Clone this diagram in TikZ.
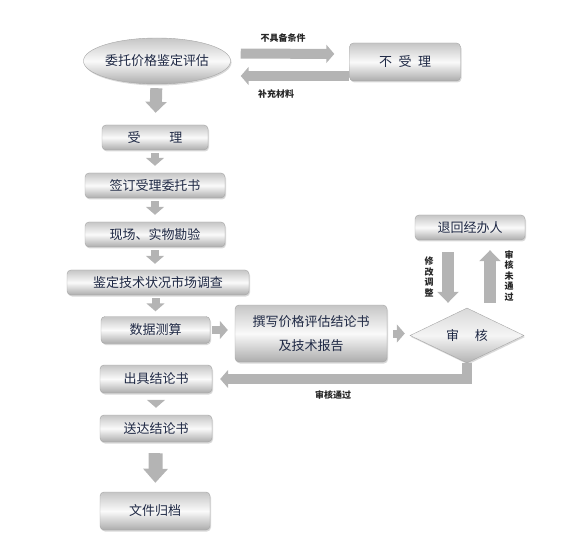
\documentclass[tikz,border=0pt]{standalone}
\usepackage{fontspec}
\setmainfont{Noto Sans CJK SC}
\usepackage{tikz}
\usetikzlibrary{positioning}
\usetikzlibrary{shapes.geometric}
\usetikzlibrary{arrows.meta}
\usetikzlibrary{shadows}
\definecolor{inkblue}{RGB}{30,40,68}
\definecolor{arrowgray}{RGB}{180,180,180}

\begin{document}
\begin{tikzpicture}[x=1pt, y=-1pt,
    box/.style={rectangle, rounded corners=4pt, draw=gray!70, top color=gray!45, bottom color=gray!65, middle color=gray!4,
        drop shadow={opacity=0.3, shadow xshift=1pt, shadow yshift=-1.5pt},
        text=inkblue, font=\fontsize{13}{24}\selectfont, inner sep=0pt, align=center},
    oval/.style={box, ellipse, rounded corners=0pt},
    check/.style={box, diamond, rounded corners=0pt, top color=gray!30, bottom color=gray!60, middle color=gray!8},
    note/.style={font=\bfseries\fontsize{9}{10.5}\selectfont, text=black!85, align=center},
    flow/.style={draw=arrowgray, line width=8pt, -{Triangle[width=18pt, length=8pt]}},
    bigflow/.style={draw=arrowgray, line width=12pt, -{Triangle[width=21pt, length=11pt]}}]
    \useasboundingbox (0,0) rectangle (571,559);

    % Top row
    \node[oval, minimum width=141pt, minimum height=46pt] (entrust) at (157,61) {委托价格鉴定评估};
    \node[box, minimum width=111pt, minimum height=38pt] (reject) at (405,62) {不\hspace{0.5em}受\hspace{0.5em}理};

    % Main column
    \node[box, minimum width=106pt, minimum height=25pt] (accept) at (155,137.5) {受\hspace{2.2em}理};
    \node[box, minimum width=140pt, minimum height=25pt] (sign) at (155,185.5) {签订受理委托书};
    \node[box, minimum width=140pt, minimum height=25pt] (survey) at (155,234.5) {现场、实物勘验};
    \node[box, minimum width=182pt, minimum height=25pt] (market) at (158,282.5) {鉴定技术状况市场调查};
    \node[box, minimum width=109pt, minimum height=27pt] (calc) at (155.5,330) {数据测算};
    \node[box, minimum width=112pt, minimum height=28pt] (issue) at (156,379) {出具结论书};
    \node[box, minimum width=112pt, minimum height=27pt] (deliver) at (156,428.5) {送达结论书};
    \node[box, minimum width=110pt, minimum height=38pt] (archive) at (155,511) {文件归档};

    % Report and review
    \node[box, minimum width=152pt, minimum height=57pt] (write) at (311,333.5) {撰写价格评估结论书\\及技术报告};
    \node[check, minimum width=114pt, minimum height=55pt] (review) at (467,335.5) {审\hspace{1.2em}核};
    \node[box, minimum width=110pt, minimum height=25pt] (back) at (470,227.5) {退回经办人};

    % Connections
    \draw[flow, line width=10pt, shorten <=10pt, shorten >=15pt] ([yshift=7.5pt]entrust.east) -- ([yshift=8pt]reject.west);
    \draw[flow, line width=10pt, shorten <=0pt, shorten >=10pt] ([yshift=-14pt]reject.west) -- ([yshift=-15pt]entrust.east);
    \draw[bigflow, shorten <=4pt, shorten >=12pt] (entrust) -- (accept);
    \draw[flow, shorten <=3pt, shorten >=7pt] (accept) -- (sign);
    \draw[flow, shorten <=3pt, shorten >=7pt] (sign) -- (survey);
    \draw[flow, shorten <=3pt, shorten >=6pt] (survey) -- (survey |- market.north);
    \draw[flow, shorten <=3pt, shorten >=5pt] (calc |- market.south) -- (calc);
    \draw[flow, shorten <=2pt, shorten >=7pt] (calc) -- (calc -| write.west);
    \draw[flow, shorten <=6pt, shorten >=5pt] (write) -- (write -| review.west);
    \draw[bigflow, shorten <=12pt, shorten >=5pt] ([xshift=-22pt]back.south) -- ([xshift=-22pt]back.south |- review.north);
    \draw[bigflow, shorten <=5pt, shorten >=10pt] ([xshift=20pt]back.south |- review.north) -- ([xshift=20pt]back.south);
    \draw[flow, line width=10pt, line join=miter, shorten >=8pt] (review.south) |- (issue.east);
    \draw[flow, shorten <=7pt, shorten >=7pt] (issue) -- (deliver);
    \draw[bigflow, line width=14pt, -{Triangle[width=24pt, length=14pt]}, shorten <=11pt, shorten >=9pt] (deliver) -- (archive);

    % Labels
    \node[note] (nocond) at (283,38) {不具备条件};
    \node[note] (supply) at (276,94) {补充材料};
    \node[note] (revise) at (429,277) {修\\改\\调\\整};
    \node[note] (fail) at (509,276) {审\\核\\未\\通\\过};
    \node[note] (pass) at (333,395) {审核通过};
\end{tikzpicture}
\end{document}
